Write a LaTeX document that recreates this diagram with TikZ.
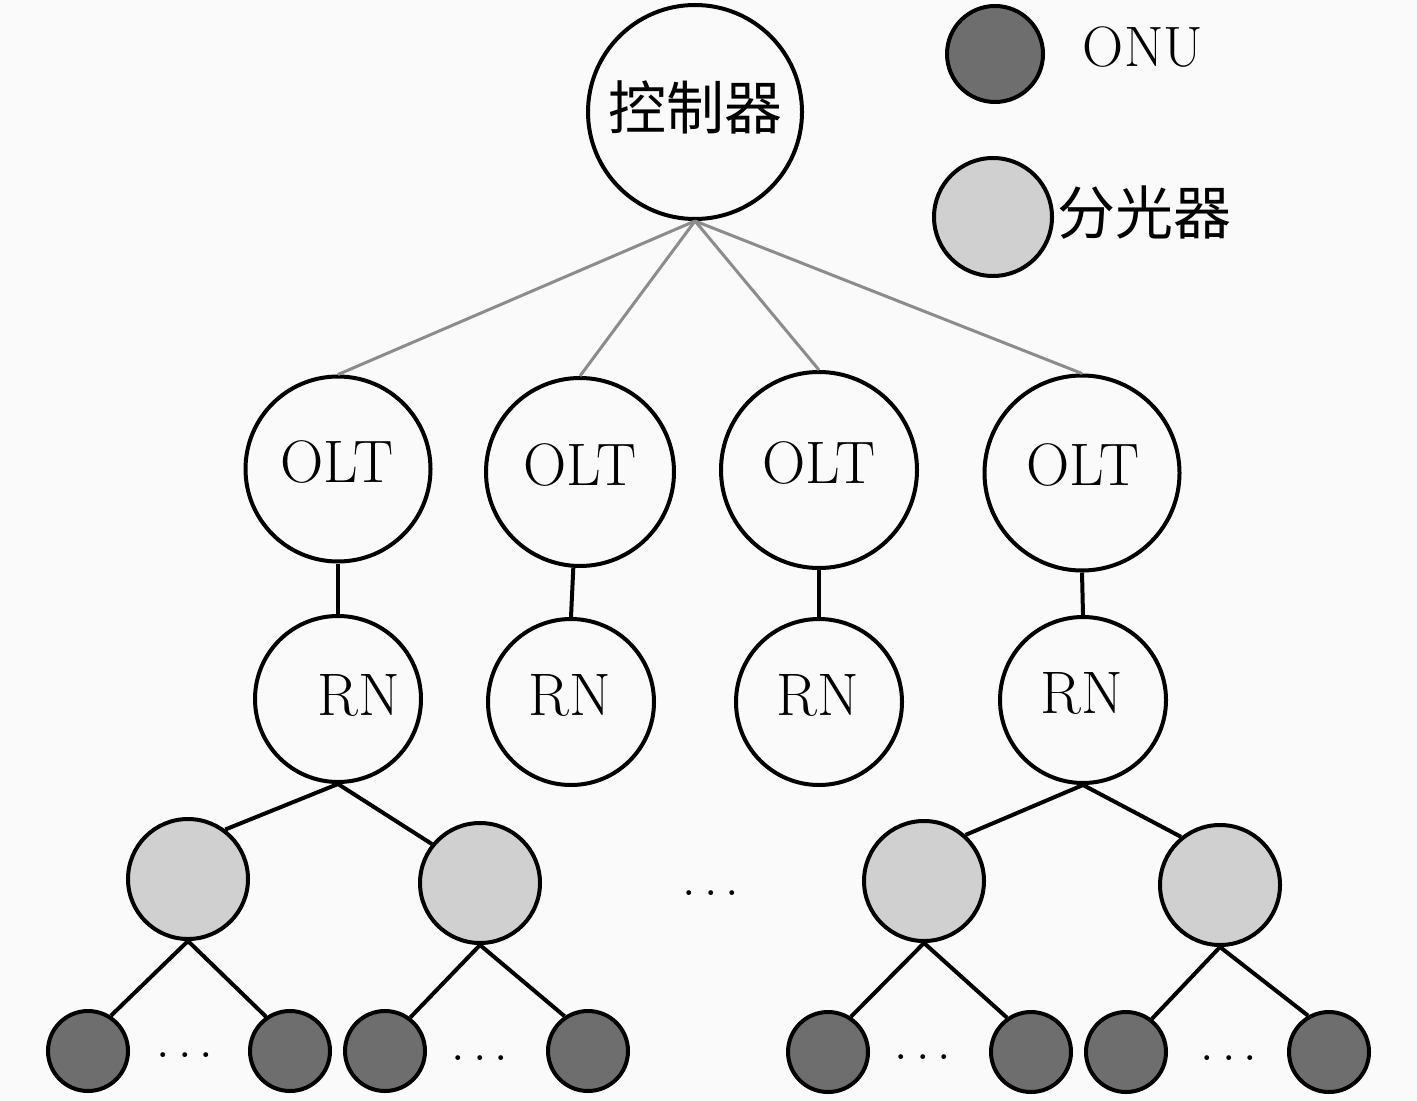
\documentclass[tikz,border=0pt]{standalone}
\usepackage{fontspec}
\newfontfamily\cjk{Noto Sans CJK SC}
\definecolor{bgc}{RGB}{250,250,250}
\definecolor{splitc}{RGB}{208,208,208}
\definecolor{onuc}{RGB}{110,110,110}
\definecolor{linkc}{RGB}{140,140,140}
\begin{document}
\begin{tikzpicture}[x=0.5pt,y=-0.5pt,
  base/.style={circle, draw=black, line width=2pt, inner sep=0pt, fill=bgc},
  ctrlnode/.style={base, minimum size=107pt},
  oltnode/.style={base, minimum size=94pt},
  rnnode/.style={base, minimum size=83pt},
  splitnode/.style={base, fill=splitc, minimum size=60pt},
  onunode/.style={base, fill=onuc, minimum size=40pt},
  lat/.style={font=\fontsize{30}{36}\selectfont, inner sep=0pt},
  onutxt/.style={font=\fontsize{28.5}{34}\selectfont, inner sep=0pt},
  cjktxt/.style={font=\cjk\fontsize{29}{34}\selectfont, inner sep=0pt},
  dotstxt/.style={font=\fontsize{31}{37}\selectfont, inner sep=0pt},
  graylink/.style={draw=linkc, line width=1.5pt},
  blacklink/.style={draw=black, line width=2pt}]
\path[use as bounding box, fill=bgc] (0,0) rectangle (1417,1101);

% controller
\node[ctrlnode] (ctrl) at (695,112) {};
\node[cjktxt] (ctrlt) at (695,107) {控制器};

% legend
\node[onunode, minimum size=48pt] (legonu) at (995,54) {};
\node[onutxt] (legonut) at (1143,47) {ONU};
\node[splitnode, minimum size=59pt] (legsp) at (993,217) {};
\node[cjktxt] (legspt) at (1144,213) {分光器};

% OLTs
\node[oltnode, minimum size=92.5pt] (olt1) at (338,469) {};
\node[oltnode, minimum size=94pt] (olt2) at (580,472) {};
\node[oltnode, minimum size=98pt] (olt3) at (819,470) {};
\node[oltnode, minimum size=97.5pt] (olt4) at (1082,473) {};
\node[lat] (olt1t) at (337,462) {OLT};
\node[lat] (olt2t) at (580,465) {OLT};
\node[lat] (olt3t) at (819,463) {OLT};
\node[lat] (olt4t) at (1083,465) {OLT};

% RNs
\node[rnnode] (rn1) at (338,699) {};
\node[rnnode] (rn2) at (571,702) {};
\node[rnnode] (rn3) at (819,702) {};
\node[rnnode] (rn4) at (1083,700) {};
\node[lat] (rn1t) at (359,695) {RN};
\node[lat] (rn2t) at (570,695) {RN};
\node[lat] (rn3t) at (818,695) {RN};
\node[lat] (rn4t) at (1082,693) {RN};

% splitters
\node[splitnode] (sp1) at (188,879) {};
\node[splitnode] (sp2) at (480,883) {};
\node[splitnode] (sp3) at (924,881) {};
\node[splitnode] (sp4) at (1220,885) {};

% ONUs
\node[onunode] (onu1) at (88,1051) {};
\node[onunode] (onu2) at (290,1051) {};
\node[onunode] (onu3) at (385,1051) {};
\node[onunode] (onu4) at (588,1051) {};
\node[onunode] (onu5) at (828,1052) {};
\node[onunode] (onu6) at (1031,1052) {};
\node[onunode] (onu7) at (1126,1052) {};
\node[onunode] (onu8) at (1329,1052) {};

% dots
\node[dotstxt] (d1) at (185,1055) {$\ldots$};
\node[dotstxt] (d2) at (480,1058) {$\ldots$};
\node[dotstxt] (d3) at (923,1057) {$\ldots$};
\node[dotstxt] (d4) at (1229,1058) {$\ldots$};
\node[dotstxt] (dm) at (711,893) {$\ldots$};

% links controller -> OLT
\draw[graylink] (ctrl.south) -- (olt1.north);
\draw[graylink] (ctrl.south) -- (olt2.north);
\draw[graylink] (ctrl.south) -- (olt3.north);
\draw[graylink] (ctrl.south) -- (olt4.north);

% OLT -> RN
\draw[blacklink] (olt1.south) -- (rn1.north);
\draw[blacklink] (olt2.-94) -- (rn2.north);
\draw[blacklink] (olt3.south) -- (rn3.north);
\draw[blacklink] (olt4.south) -- (rn4.north);

% RN -> splitters
\draw[blacklink] (rn1.south) -- (sp1.53);
\draw[blacklink] (rn1.south) -- (sp2.141);
\draw[blacklink] (rn4.south) -- (sp3.48);
\draw[blacklink] (rn4.south) -- (sp4.129);

% splitters -> ONUs
\draw[blacklink] (sp1.south) -- (onu1.57);
\draw[blacklink] (sp1.south) -- (onu2.125);
\draw[blacklink] (sp2.south) -- (onu3.53);
\draw[blacklink] (sp2.south) -- (onu4.124);
\draw[blacklink] (sp3.south) -- (onu5.57);
\draw[blacklink] (sp3.south) -- (onu6.125);
\draw[blacklink] (sp4.south) -- (onu7.52);
\draw[blacklink] (sp4.south) -- (onu8.120);
\end{tikzpicture}
\end{document}
